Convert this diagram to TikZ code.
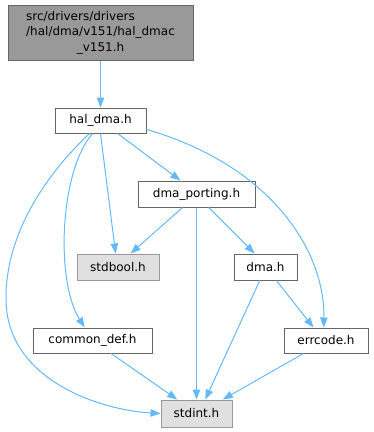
\documentclass[tikz,border=0pt]{standalone}
\usepackage{fontspec}
\setmainfont{DejaVu Sans}
\usetikzlibrary{arrows.meta}

\definecolor{edgeblue}{HTML}{63B8FF}
\definecolor{frame}{HTML}{666666}
\definecolor{sysframe}{HTML}{999999}
\definecolor{sysfill}{HTML}{E0E0E0}
\definecolor{topfill}{HTML}{999999}

\tikzset{
  file/.style={draw=frame, fill=white, line width=1pt, inner sep=0pt,
    minimum height=25pt, font=\fontsize{12}{15.5}\selectfont},
  sysfile/.style={file, draw=sysframe, fill=sysfill},
  topfile/.style={file, fill=topfill},
  dep/.style={draw=edgeblue, line width=1pt, -{Triangle[length=10pt,width=7.5pt]}}
}

\begin{document}
\begin{tikzpicture}[x=1pt, y=-1pt]
\useasboundingbox (0,0) rectangle (373,432);

  % Draw files
  \node[topfile, minimum width=185pt, minimum height=55pt] (top) at (100.5,32.5)
    {\begin{tabular}{@{}l@{}}src/drivers/drivers\\/hal/dma/v151/hal\_dmac\\\multicolumn{1}{@{}c@{}}{\_v151.h}\end{tabular}};
  \node[file, minimum width=91pt] (hal) at (100.5,120.5) {hal\_dma.h};
  \node[file, minimum width=117pt, minimum height=26pt] (port) at (196.5,194) {dma\_porting.h};
  \node[sysfile, minimum width=82pt, minimum height=26pt] (bool) at (118,267) {stdbool.h};
  \node[file, minimum width=63pt, minimum height=26pt] (dma) at (265.5,267) {dma.h};
  \node[file, minimum width=119pt] (cdef) at (92.5,340.5) {common\_def.h};
  \node[file, minimum width=84pt] (err) at (326,340.5) {errcode.h};
  \node[sysfile, minimum width=71pt, minimum height=27pt] (stdint) at (196.5,413.5) {stdint.h};

  % Draw includes
  \draw[dep] (top.south) -- (hal.north);
  \draw[dep] (hal.-37) -- (port.140);
  \draw[dep] (hal.south) -- (bool.100);
  \draw[dep] (hal.-11) .. controls (270,165) and (325,250) .. (err.100);
  \draw[dep] (hal.-121) .. controls (60,170) and (55,280) .. (cdef.121);
  \draw[dep] (hal.-130) .. controls (40,180) and (5,240) .. (6,300)
    .. controls (7,380) and (100,410) .. (stdint.west);
  \draw[dep] (port.-136) -- (bool.47);
  \draw[dep] (port.south) -- (stdint.north);
  \draw[dep] (port.-48) -- (dma.129);
  \draw[dep] (dma.-113) -- (stdint.58);
  \draw[dep] (dma.-51) -- (err.134);
  \draw[dep] (err.-150) -- (stdint.28);
  \draw[dep] (cdef.-35) -- (stdint.144);
\end{tikzpicture}
\end{document}
